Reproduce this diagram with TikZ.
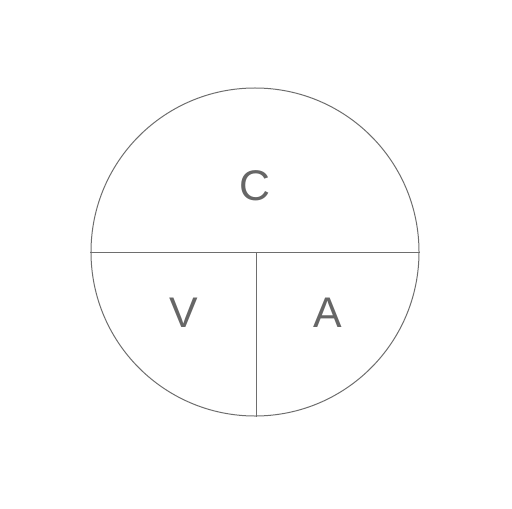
\documentclass[tikz,border=0pt]{standalone}
\usepackage{fontspec}
\setmainfont{Liberation Sans}
\definecolor{linegray}{HTML}{6E6E6E}
\definecolor{textgray}{HTML}{666666}
\begin{document}
\begin{tikzpicture}[x=1bp,y=-1bp,
  part/.style={draw=linegray,line width=1bp},
  lbl/.style={text=textgray,font=\fontsize{43}{43}\selectfont,inner sep=0pt}]
\useasboundingbox (0,0) rectangle (512,509);
\node[part,circle,minimum size=328bp,inner sep=0pt] (ring) at (255,252) {};
\coordinate (mid) at (256,252);
\draw[part] (ring.west) -- (ring.east);
\draw[part] (mid) -- (mid |- ring.south);
\node[lbl] (c) at (255,186) {C};
\node[lbl] (v) at (184,313) {V};
\node[lbl] (a) at (328,313) {A};
\end{tikzpicture}
\end{document}
